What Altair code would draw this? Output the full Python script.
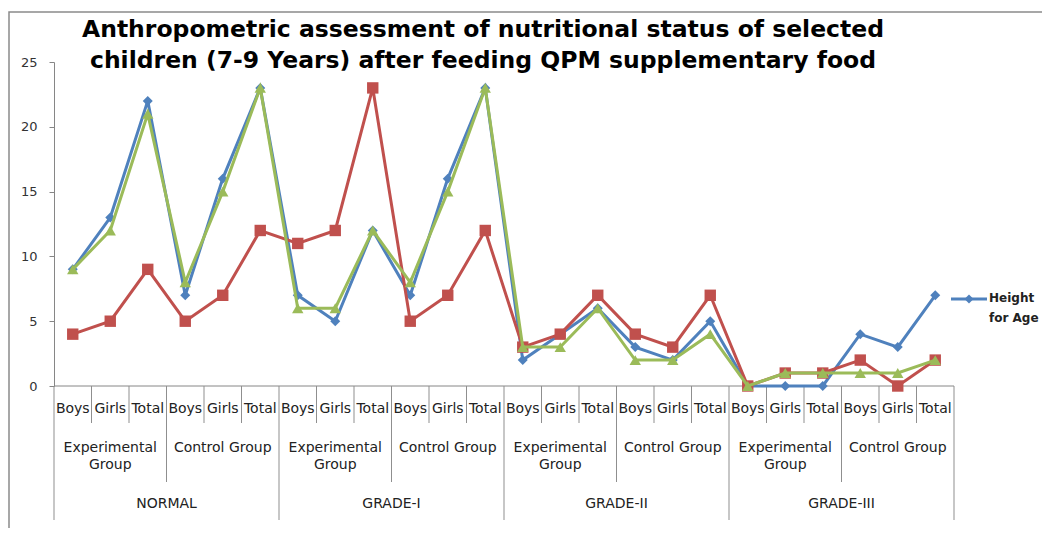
import altair as alt
import pandas as pd

grades = ["NORMAL", "GRADE-I", "GRADE-II", "GRADE-III"]
groups = ["Experimental", "Control Group"]
subcats = ["Boys", "Girls", "Total"]

series_names = ["Height for Age", "Weight for Age", "Weight for Height"]
height_for_age = [9, 13, 22, 7, 16, 23, 7, 5, 12, 7, 16, 23, 2, 4, 6, 3, 2, 5, 0, 0, 0, 4, 3, 7]
weight_for_age = [4, 5, 9, 5, 7, 12, 11, 12, 23, 5, 7, 12, 3, 4, 7, 4, 3, 7, 0, 1, 1, 2, 0, 2]
weight_for_height = [9, 12, 21, 8, 15, 23, 6, 6, 12, 8, 15, 23, 3, 3, 6, 2, 2, 4, 0, 1, 1, 1, 1, 2]
series_values = [height_for_age, weight_for_age, weight_for_height]
colors = ["#4F81BD", "#C0504D", "#9BBB59"]
shapes = ["diamond", "square", "triangle-up"]
sizes = [100, 130, 130]
y_ticks = [0, 5, 10, 15, 20, 25]

FONT = "DejaVu Sans"
W, H = 900, 324
N = len(grades) * len(groups) * len(subcats)

xs = alt.Scale(domain=[0, N], nice=False, zero=False)
ys = alt.Scale(domain=[0, 25], nice=False)
yax = alt.Axis(values=y_ticks, title=None, grid=False,
               domainColor="#868686", tickColor="#868686", tickSize=5,
               labelFont=FONT, labelFontSize=13, labelColor="#333333", labelPadding=12)

layers = []
one = pd.DataFrame({"a": [0]})

# frame
layers.append(alt.Chart(one).mark_rect(
    fillOpacity=0, stroke="#8a8a8a", strokeWidth=1.5
).encode(x=alt.value(-45), x2=alt.value(1200), y=alt.value(-50), y2=alt.value(700)))

# x baseline
layers.append(alt.Chart(one).mark_rule(color="#868686", strokeWidth=1).encode(
    x=alt.value(0), x2=alt.value(W), y=alt.value(H)))

# dividers (three lengths)
div_small = [i for i in range(N + 1) if i % 3 != 0]
div_group = [i for i in range(N + 1) if i % 3 == 0 and i % 6 != 0]
div_grade = [i for i in range(N + 1) if i % 6 == 0]
for pos_list, end in [(div_small, 423 - 62), (div_group, 482 - 62), (div_grade, 520 - 62)]:
    layers.append(alt.Chart(pd.DataFrame({"p": pos_list})).mark_rule(color="#8f8f8f", strokeWidth=1).encode(
        x=alt.X("p:Q", scale=xs, axis=None), y=alt.value(H), y2=alt.value(end)))

# category labels
LBL = dict(font=FONT, fontSize=14, color="#222222", baseline="middle")
cat_df = pd.DataFrame({"p": [i + 0.5 for i in range(N)], "lab": [subcats[i % 3] for i in range(N)]})
layers.append(alt.Chart(cat_df).mark_text(**LBL).encode(
    x=alt.X("p:Q", scale=xs, axis=None), y=alt.value(409 - 62), text="lab:N"))

# group labels
grp_rows1, grp_rows2 = [], []
for g in range(len(grades) * len(groups)):
    name = groups[g % 2]
    grp_rows1.append({"p": g * 3 + 1.5, "lab": name})
    if name == "Experimental":
        grp_rows2.append({"p": g * 3 + 1.5, "lab": "Group"})
layers.append(alt.Chart(pd.DataFrame(grp_rows1)).mark_text(**LBL).encode(
    x=alt.X("p:Q", scale=xs, axis=None), y=alt.value(448 - 62), text="lab:N"))
layers.append(alt.Chart(pd.DataFrame(grp_rows2)).mark_text(**LBL).encode(
    x=alt.X("p:Q", scale=xs, axis=None), y=alt.value(465 - 62), text="lab:N"))

# grade labels
grade_df = pd.DataFrame({"p": [k * 6 + 3 for k in range(len(grades))], "lab": grades})
layers.append(alt.Chart(grade_df).mark_text(**LBL).encode(
    x=alt.X("p:Q", scale=xs, axis=None), y=alt.value(504 - 62), text="lab:N"))

# series
for name, vals, col, shp, sz in zip(series_names, series_values, colors, shapes, sizes):
    df = pd.DataFrame({"p": [i + 0.5 for i in range(N)], "v": vals, "s": name})
    base = alt.Chart(df).encode(
        x=alt.X("p:Q", scale=xs, axis=None),
        y=alt.Y("v:Q", scale=ys, axis=yax))
    layers.append(base.mark_line(color=col, strokeWidth=3))
    layers.append(base.mark_point(color=col, filled=True, opacity=1, shape=shp, size=sz))

# legend (only first entry visible, as in the reference)
layers.append(alt.Chart(one).mark_rule(color=colors[0], strokeWidth=3).encode(
    x=alt.value(951 - 54), x2=alt.value(987 - 54), y=alt.value(299 - 62)))
layers.append(alt.Chart(one).mark_point(color=colors[0], filled=True, opacity=1, shape="diamond", size=80).encode(
    x=alt.value(969 - 54), y=alt.value(299 - 62)))
LEG = dict(font=FONT, fontSize=12, fontWeight="bold", color="#222222", align="left", baseline="middle")
layers.append(alt.Chart(one).mark_text(**LEG).encode(
    x=alt.value(989 - 54), y=alt.value(298 - 62), text=alt.value("Height")))
layers.append(alt.Chart(one).mark_text(**LEG).encode(
    x=alt.value(989 - 54), y=alt.value(318 - 62), text=alt.value("for Age")))

# title
title_lines = ["Anthropometric assessment of nutritional status of selected",
               "children (7-9 Years) after feeding QPM supplementary food"]
for k, t in enumerate(title_lines):
    layers.append(alt.Chart(one).mark_text(font=FONT, fontSize=23.5, fontWeight="bold", color="#000000",
                                           align="center", baseline="alphabetic").encode(
        x=alt.value(483 - 54), y=alt.value([37, 68][k] - 62), text=alt.value(t)))

chart = alt.layer(*layers).properties(
    width=W, height=H,
    autosize=alt.AutoSizeParams(type="none"),
    padding={"left": 46, "top": 54, "right": 88, "bottom": 142},
).configure_view(stroke=None)

chart.save("out.html", embed_options={"renderer": "svg", "actions": False})
